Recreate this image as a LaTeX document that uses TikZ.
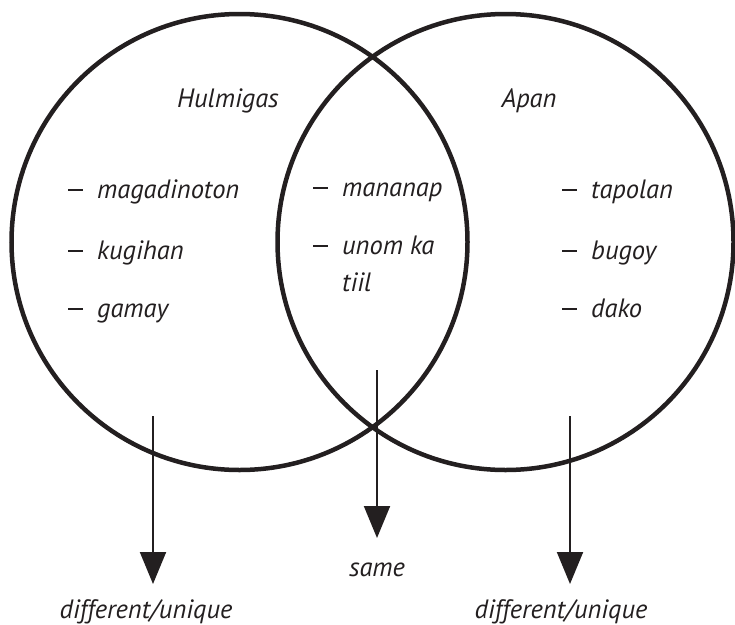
\documentclass[tikz,border=0pt]{standalone}
\usepackage{fontspec}
\setmainfont{PT Sans}
\usetikzlibrary{arrows.meta}
\definecolor{ink}{HTML}{231F20}
\begin{document}
\begin{tikzpicture}[x=1pt,y=-1pt,
  ring/.style={draw=ink, line width=4.5pt},
  lbl/.style={font=\fontsize{26.5}{36}\selectfont\itshape, text=ink, inner sep=0pt, anchor=base west, align=left},
  ctr/.style={font=\fontsize{26.5}{36}\selectfont\itshape, text=ink, inner sep=0pt, anchor=base},
  arr/.style={draw=ink, line width=2pt, -{Triangle[length=32pt,width=26pt]}}]
\useasboundingbox (0,0) rectangle (735,624);
\newcommand{\dsh}{\makebox[29pt][l]{\rule[7.5pt]{15pt}{2pt}}}
% circles
\node[ring, circle, minimum size=456pt, inner sep=0pt] (L) at (239.5,242) {};
\node[ring, circle, minimum size=456pt, inner sep=0pt] (R) at (505.5,242) {};
% titles
\node[ctr] (hul) at (228,107) {Hulmigas};
\node[ctr] (apan) at (529,107) {Apan};
% left items
\node[lbl] (l1) at (68,198) {\dsh magadinoton};
\node[lbl] (l2) at (68,259) {\dsh kugihan};
\node[lbl] (l3) at (68,317) {\dsh gamay};
% middle items
\node[lbl] (m1) at (313,196) {\dsh mananap};
\node[lbl] (m2) at (313,254) {\dsh unom ka};
\node[lbl] (m3) at (342,291) {tiil};
% right items
\node[lbl] (r1) at (562,198) {\dsh tapolan};
\node[lbl] (r2) at (562,259) {\dsh bugoy};
\node[lbl] (r3) at (562,317) {\dsh dako};
% arrows
\coordinate (a1) at (153,416);
\coordinate (a1e) at (153,584);
\coordinate (a2) at (377,370);
\coordinate (a2e) at (377,538);
\coordinate (a3) at (570,416);
\coordinate (a3e) at (570,584);
\draw[arr] (a1) -- (a1e);
\draw[arr] (a2) -- (a2e);
\draw[arr] (a3) -- (a3e);
\node[ctr] (same) at (377,576) {same};
\node[ctr] (d1) at (146,618) {different/unique};
\node[ctr] (d2) at (561,618) {different/unique};
\end{tikzpicture}
\end{document}
